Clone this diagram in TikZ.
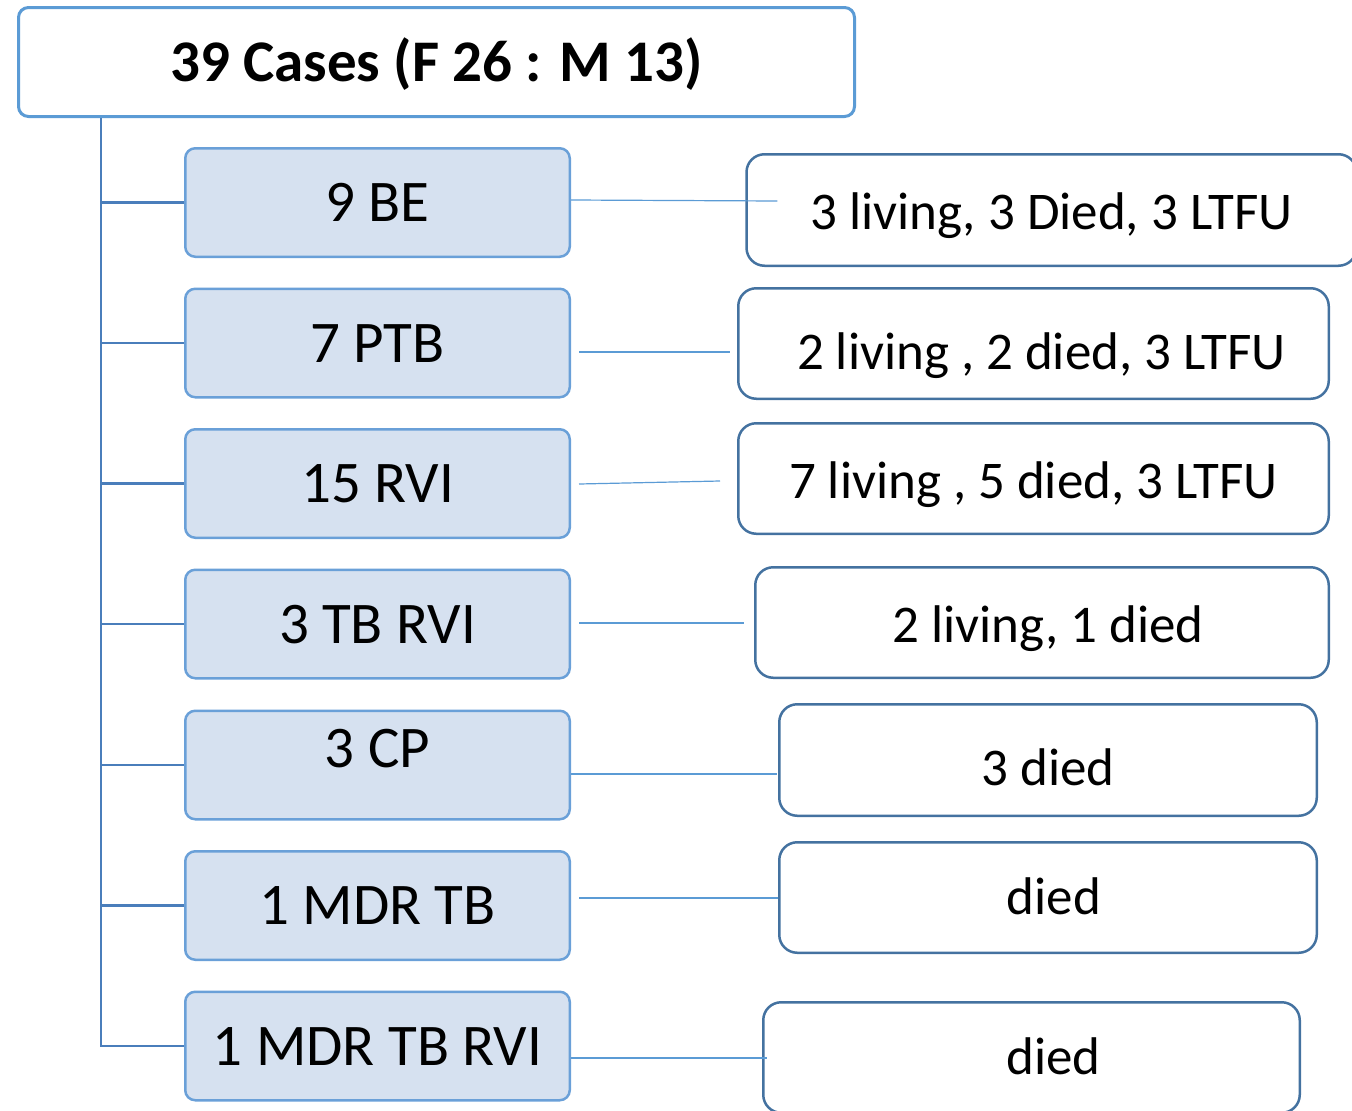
\documentclass[tikz,border=0pt]{standalone}
\usepackage{fontspec}
\setmainfont{Carlito}
\definecolor{titleblue}{RGB}{91,155,213}
\definecolor{leftborder}{RGB}{106,160,216}
\definecolor{leftfill}{RGB}{214,225,240}
\definecolor{rightborder}{RGB}{68,114,160}
\definecolor{trunkblue}{RGB}{74,126,187}
\definecolor{connblue}{RGB}{91,155,213}
\begin{document}
\begin{tikzpicture}[x=1pt,y=-1pt,
  titlebox/.style={draw=titleblue, line width=3pt, rounded corners=10pt, fill=white,
    minimum width=836pt, minimum height=109pt, inner sep=0pt,
    font=\fontsize{59}{70}\selectfont\bfseries, text height=38pt, text depth=0pt},
  leftbox/.style={draw=leftborder, fill=leftfill, line width=2.5pt, rounded corners=10pt,
    minimum width=384.5pt, minimum height=108.5pt, inner sep=0pt,
    font=\fontsize{59}{70}\selectfont, text height=38pt, text depth=0pt},
  rightbox/.style={draw=rightborder, fill=white, line width=2.5pt, rounded corners=18pt,
    minimum height=110.5pt, inner sep=0pt,
    font=\fontsize{53}{64}\selectfont, text height=34pt, text depth=0pt},
  trunk/.style={draw=trunkblue, line width=2.5pt},
  conn/.style={draw=connblue, line width=1.2pt}]
\useasboundingbox (0,0) rectangle (1352,1111);
\clip (0,0) rectangle (1352,1111);

\node[titlebox] (T) at (436.5,62) {39 Cases (F 26 : M 13)};

\node[leftbox] (L1) at (377.5,202.5) {9 BE};
\node[leftbox] (L2) at (377.5,343) {7 PTB};
\node[leftbox] (L3) at (377.5,483.5) {15 RVI};
\node[leftbox] (L4) at (377.5,624) {3 TB RVI};
\node[leftbox, text depth=34pt] (L5) at (377.5,765) {3 CP};
\node[leftbox] (L6) at (377.5,905.5) {1 MDR TB};
\node[leftbox] (L7) at (377.5,1046) {1 MDR TB RVI};

\node[rightbox, minimum width=610pt, minimum height=111.5pt, text height=38pt] (R1) at (1051.5,210) {3 living, 3 Died, 3 LTFU};
\node[rightbox, minimum width=590.5pt, text height=52pt] (R2) at (1033.5,343.5) {\hspace*{16pt}2 living , 2 died, 3 LTFU};
\node[rightbox, minimum width=590.5pt, text height=40pt] (R3) at (1033.5,478.5) {7 living , 5 died, 3 LTFU};
\node[rightbox, minimum width=573.5pt, text height=40pt] (R4) at (1042,622.5) {\hspace*{12pt}2 living, 1 died};
\node[rightbox, minimum width=537.5pt, minimum height=111.5pt, text height=50pt] (R5) at (1048,760) {3 died};
\node[rightbox, minimum width=537.5pt] (R6) at (1048,897.5) {\hspace*{12pt}died};
\node[rightbox, minimum width=536.5pt] (R7) at (1031.5,1057.5) {\hspace*{44pt}died};

\coordinate (tk) at (101,0);
\draw[trunk] (tk |- T.south) |- (L7.west);
\foreach \i in {1,...,6}{
  \draw[trunk] (tk |- L\i.west) -- (L\i.west);
}

\draw[conn] ([yshift=2.5pt]L1.east) -- ([xshift=32pt,yshift=9pt]R1.west);
\draw[conn] ([xshift=8pt,yshift=-9pt]L2.east) -- ([xshift=-7pt,yshift=-8.5pt]R2.west);
\draw[conn] ([xshift=8pt,yshift=-0.5pt]L3.east) -- ([xshift=-17pt,yshift=-2.5pt]R3.west);
\draw[conn] ([xshift=8pt,yshift=1pt]L4.east) -- ([xshift=-10pt,yshift=-0.5pt]R4.west);
\draw[conn] ([yshift=-9pt]L5.east) -- ([xshift=-1pt,yshift=-14pt]R5.west);
\draw[conn] ([xshift=8pt,yshift=7.5pt]L6.east) -- ([yshift=-0.5pt]R6.west);
\draw[conn] ([yshift=-12pt]L7.east) -- ([xshift=5pt,yshift=-0.5pt]R7.west);
\end{tikzpicture}
\end{document}
